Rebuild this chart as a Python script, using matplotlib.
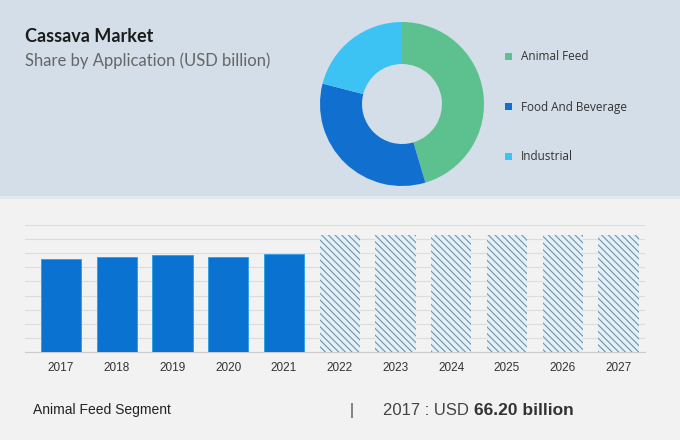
import matplotlib
matplotlib.use("Agg")
import matplotlib.pyplot as plt
from matplotlib.patches import Rectangle

# donut data (share by application, %)
segments = ["Animal Feed", "Food And Beverage", "Industrial"]
shares = [45.4, 33.6, 21.0]
seg_colors = ["#5cc18f", "#1170cf", "#3dc3f3"]

# bar data (USD billion)
years = ["2017", "2018", "2019", "2020", "2021", "2022", "2023", "2024", "2025", "2026", "2027"]
values = [66.2, 67.6, 69.0, 67.2, 69.3]
forecast = [83.0, 83.0, 83.0, 83.0, 83.0, 83.0]

W, H = 680, 440
fig = plt.figure(figsize=(6.8, 4.4), dpi=100)
fig.patch.set_facecolor("#f2f2f2")
fig.patches.append(Rectangle((0, 1 - 196 / H), 1, 196 / H, transform=fig.transFigure,
                             facecolor="#d4dee8", edgecolor="none", zorder=-2))
fig.patches.append(Rectangle((0, 1 - 199 / H), 1, 3 / H, transform=fig.transFigure,
                             facecolor="#e2eaf1", edgecolor="none", zorder=-2))

fig.text(25 / W, 1 - 36 / H, "Cassava Market", fontsize=13, fontweight="bold",
         color="#1b1b1b", family="Lato", va="center")
fig.text(25 / W, 1 - 61 / H, "Share by Application (USD billion)", fontsize=12,
         color="#666666", family="Lato", va="center")

# donut
ax_d = fig.add_axes([(402 - 85) / W, (H - 104 - 85) / H, 170 / W, 170 / H])
ax_d.pie(shares, colors=seg_colors, startangle=90, counterclock=False,
         radius=82 / 85, wedgeprops=dict(width=42 / 85, edgecolor="none"))
ax_d.set_xlim(-1, 1)
ax_d.set_ylim(-1, 1)
ax_d.set_aspect("equal")
ax_d.axis("off")

for i, (name, col) in enumerate(zip(segments, seg_colors)):
    y = 1 - (57 + 50 * i) / H
    fig.patches.append(Rectangle((505 / W, y - 3.5 / H), 7 / W, 7 / H, transform=fig.transFigure,
                                 facecolor=col, edgecolor="none"))
    fig.text(521 / W, y, name, fontsize=8.5, color="#333333", family="Open Sans", va="center")

# bars
ax = fig.add_axes([25 / W, (H - 352) / H, 620 / W, 127 / H])
ax.set_facecolor("#f2f2f2")
x_hist = list(range(len(values)))
x_fc = list(range(len(values), len(years)))
ax.bar(x_hist, values, width=0.72, color="#0a72d0", edgecolor="#29a0e6", linewidth=0.6, zorder=3)
plt.rcParams["hatch.linewidth"] = 0.8
ax.bar(x_fc, forecast, width=0.72, color="#e2f1fa", edgecolor="#7890a6", hatch="\\\\\\\\\\",
       linewidth=0, zorder=3)
ax.set_xlim(-0.646, 10.475)
ax.set_ylim(0, 90)
ax.set_yticks(range(0, 91, 10))
ax.yaxis.grid(True, color="#dcdcdc", linewidth=0.8, zorder=0)
ax.set_axisbelow(True)
for s in ["top", "right", "left"]:
    ax.spines[s].set_visible(False)
ax.spines["bottom"].set_color("#cccccc")
ax.tick_params(axis="y", left=False, labelleft=False)
ax.tick_params(axis="x", length=0, pad=7, labelsize=8.5, labelcolor="#333333")
ax.set_xticks(range(len(years)))
ax.set_xticklabels(years, family="Liberation Sans")

fig.text(33 / W, 1 - 410 / H, "Animal Feed Segment", fontsize=10, color="#222222",
         family="Liberation Sans", va="center")
fig.text(350 / W, 1 - 410 / H, "|", fontsize=11.5, color="#444444", family="Liberation Sans",
         va="center")
t1 = fig.text(383 / W, 1 - 410 / H, "2017 : USD ", fontsize=12, color="#444444",
              family="Liberation Sans", va="center")
fig.canvas.draw()
x_end = t1.get_window_extent().x1
fig.text(x_end / W, 1 - 410 / H, "66.20 billion", fontsize=12.5, fontweight="bold",
         color="#333333", family="Liberation Sans", va="center")

fig.savefig("out.png", dpi=100, facecolor=fig.get_facecolor())
